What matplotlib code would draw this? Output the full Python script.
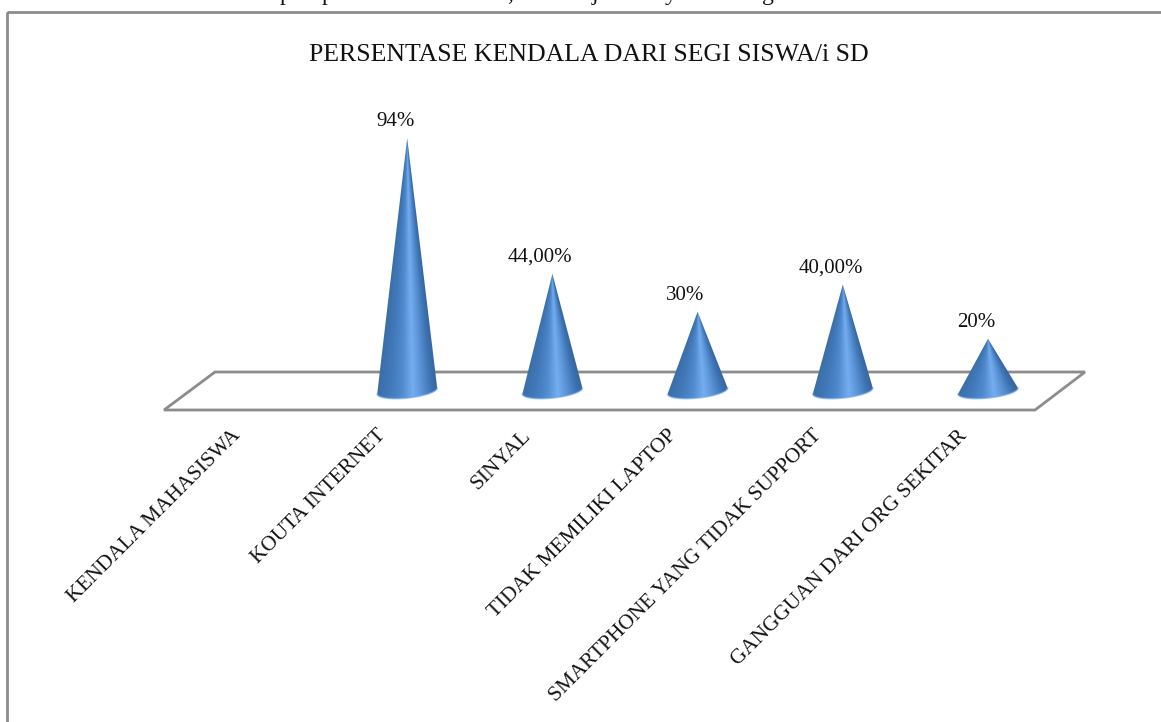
import numpy as np
import matplotlib
matplotlib.use("Agg")
import matplotlib.pyplot as plt
from matplotlib.colors import LinearSegmentedColormap
from matplotlib.patches import PathPatch, Polygon, Rectangle
from matplotlib.path import Path

categories = ["KENDALA MAHASISWA", "KOUTA INTERNET", "SINYAL", "TIDAK MEMILIKI LAPTOP",
              "SMARTPHONE YANG TIDAK SUPPORT", "GANGGUAN DARI ORG SEKITAR"]
values = [0, 94, 44, 30, 40, 20]
value_labels = ["", "94%", "44,00%", "30%", "40,00%", "20%"]
title = "PERSENTASE KENDALA DARI SEGI SISWA/i SD"
# only the descenders of the cropped body text line above the chart are visible
top_glyphs = ["p", "p", ",", "j", "y", "g"]
top_glyph_x = [285, 327, 510, 595, 671, 768]

W, H = 1161, 722
plt.rcParams["font.family"] = ["Liberation Serif", "DejaVu Serif"]

fig = plt.figure(figsize=(W / 100, H / 100), dpi=100)
ax = fig.add_axes([0, 0, 1, 1])

# one category = 145.2 px, one percent = 2.71 px, zero sits at pixel (262, 393)
x_step, y_step = 145.2, 2.71
x0_px, y0_px = 262, 393
xlim = (-x0_px / x_step, (W - x0_px) / x_step)
ylim = (-(H - y0_px) / y_step, y0_px / y_step)
ax.axis("off")

grey = "#8c8c8c"
ax.add_patch(Rectangle((7, H - 12), W, -H, transform=None, fill=False, ec=grey, lw=2))
ax.add_patch(Polygon([(164, H - 410), (215, H - 372), (1085, H - 372), (1035, H - 410)],
                     closed=True, transform=None, fc="white", ec=grey, lw=2, joinstyle="miter"))

cone_map = LinearSegmentedColormap.from_list(
    "cone", [(0, "#3a6ea8"), (0.22, "#4279ba"), (0.42, "#508ccf"), (0.6, "#75aef0"),
             (0.75, "#5a93d6"), (0.9, "#3f76b6"), (1, "#38689f")])

half = 30 / x_step
tilt = 3 / y_step     # base ellipse leans up to the right
sag = 7 / y_step
lift = 2 / y_step
bottom = -9 / y_step
for i, val in enumerate(values):
    if val == 0:
        continue
    # outline: apex, down the left side, bottom curve of the base, back up
    t = np.linspace(np.pi, 2 * np.pi, 40)
    bx = i + half * np.cos(t)
    by = lift + tilt * np.cos(t) - sag * np.abs(np.sin(t))
    verts = [(i, val)] + list(zip(bx, by)) + [(i, val)]
    codes = [Path.MOVETO] + [Path.LINETO] * (len(verts) - 2) + [Path.CLOSEPOLY]
    clip = PathPatch(Path(verts, codes), fc="none", ec="none")
    ax.add_patch(clip)

    # shade by position around the cone, so the highlight runs up to the apex
    gx, gy = np.meshgrid(np.linspace(-half, half, 240), np.linspace(bottom, val, 500))
    width = np.maximum(half * (val - gy) / val, 1e-6)
    shade = np.clip(0.5 + 0.5 * gx / width, 0, 1)
    im = ax.imshow(shade, extent=(i - half, i + half, bottom, val), cmap=cone_map, vmin=0, vmax=1,
                   aspect="auto", origin="lower", zorder=3, interpolation="bilinear")
    im.set_clip_path(clip)
    # thin lighter rim on the base
    ax.plot(bx, by, color="#6ea4e2", lw=1.2, alpha=0.6, zorder=3.5)
    ax.annotate(value_labels[i], (i, val), xytext=(-12, 7), textcoords="offset pixels",
                ha="center", va="bottom", fontsize=15, color="#111111", zorder=4)

ax.set_xlim(*xlim)
ax.set_ylim(*ylim)

for i, name in enumerate(categories):
    ax.annotate(name, (i, 0), xytext=(-24, -40), textcoords="offset pixels", rotation=45,
                rotation_mode="anchor", ha="right", va="center", fontsize=15.4, color="#111111")

fig.text(589 / W, 1 - 55 / H, title, ha="center", va="center", fontsize=18.6, color="#111111")

for glyph, gx_px in zip(top_glyphs, top_glyph_x):
    fig.text(gx_px / W, 1.0, glyph, ha="center", va="baseline", fontsize=17, color="#111111")

fig.savefig("out.png", dpi=100, facecolor="white")
